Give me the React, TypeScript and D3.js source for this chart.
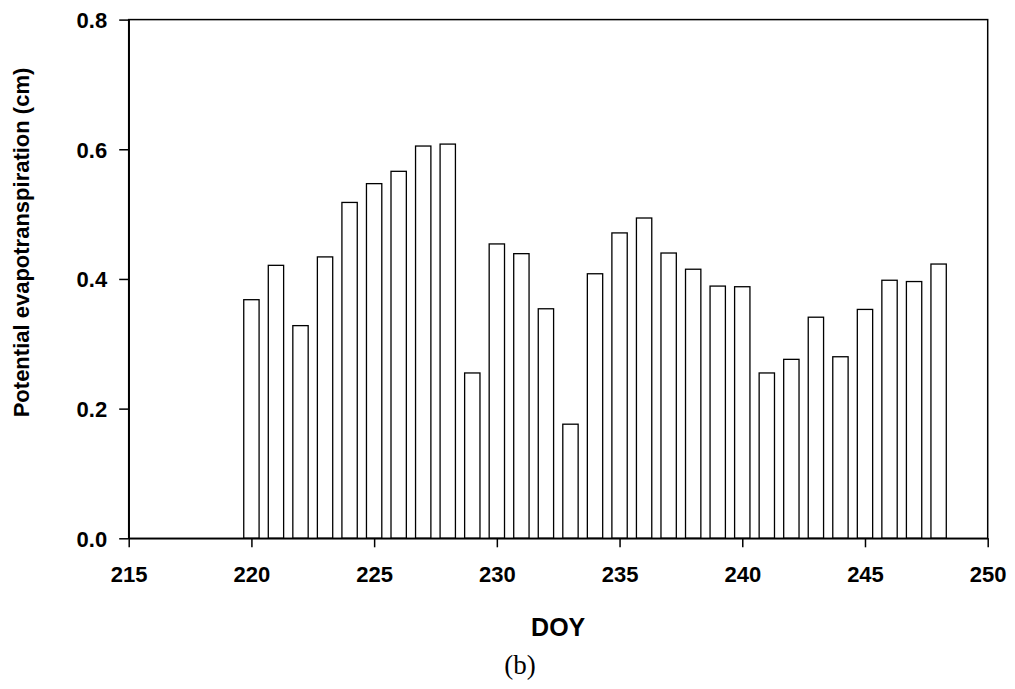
import React, { useEffect, useRef } from "react";
import * as d3 from "d3";

const days = [220, 221, 222, 223, 224, 225, 226, 227, 228, 229, 230, 231, 232, 233, 234, 235, 236, 237, 238, 239, 240, 241, 242, 243, 244, 245, 246, 247, 248];
const pet = [0.368, 0.421, 0.328, 0.434, 0.518, 0.547, 0.566, 0.605, 0.608, 0.255, 0.454, 0.439, 0.354, 0.176, 0.408, 0.471, 0.494, 0.440, 0.415, 0.389, 0.388, 0.255, 0.276, 0.341, 0.280, 0.353, 0.398, 0.396, 0.423];
const xTicks = [215, 220, 225, 230, 235, 240, 245, 250];
const yTicks = [0, 0.2, 0.4, 0.6, 0.8];

const W = 1015, H = 689;
const L = 128.7, R = 987.7, T = 19.6, B = 538.3;
const FONT = "Arial, 'Liberation Sans', sans-serif";

export default function App() {
  const ref = useRef<SVGSVGElement>(null);
  useEffect(() => {
    const svg = d3.select(ref.current);
    svg.selectAll("*").remove();
    const x = d3.scaleLinear().domain([215, 250]).range([L, R]);
    const y = d3.scaleLinear().domain([0, 0.8]).range([B, T]);
    const bw = (x(1) - x(0)) * 0.625;

    svg.append("rect").attr("width", W).attr("height", H).attr("fill", "#fff");

    svg.append("g").selectAll("rect").data(days).join("rect")
      .attr("x", (d) => x(d) - bw / 2)
      .attr("y", (_, i) => y(pet[i]))
      .attr("width", bw)
      .attr("height", (_, i) => y(0) - y(pet[i]))
      .attr("fill", "#fff")
      .attr("stroke", "#000")
      .attr("stroke-width", 1.3);

    // frame
    svg.append("rect").attr("x", L).attr("y", T).attr("width", R - L).attr("height", B - T)
      .attr("fill", "none").attr("stroke", "#000").attr("stroke-width", 1.5);

    const xa = svg.append("g").attr("transform", `translate(0,${B})`)
      .call(d3.axisBottom(x).tickValues(xTicks).tickSize(9).tickSizeOuter(0).tickPadding(0).tickFormat(d3.format("d")));
    xa.select(".domain").attr("stroke-width", 1.5);
    xa.selectAll("line").attr("stroke-width", 1.5);
    xa.selectAll("text").attr("font-family", FONT).attr("font-size", 22).attr("font-weight", "bold")
      .attr("fill", "#000").attr("y", 43.4).attr("dy", 0);

    const ya = svg.append("g").attr("transform", `translate(${L},0)`)
      .call(d3.axisLeft(y).tickValues(yTicks).tickSize(9.5).tickSizeOuter(0).tickPadding(12).tickFormat(d3.format(".1f")));
    ya.select(".domain").attr("stroke-width", 1.5);
    ya.selectAll("line").attr("stroke-width", 1.5);
    ya.selectAll("text").attr("font-family", FONT).attr("font-size", 22).attr("font-weight", "bold")
      .attr("fill", "#000").attr("dy", "0.36em");

    svg.append("text").attr("transform", `translate(29,242.5) rotate(-90)`)
      .attr("text-anchor", "middle").attr("font-family", FONT).attr("font-size", 22).attr("font-weight", "bold")
      .text("Potential evapotranspiration (cm)");

    svg.append("text").attr("x", (L + R) / 2).attr("y", 636)
      .attr("text-anchor", "middle").attr("font-family", FONT).attr("font-size", 25).attr("font-weight", "bold")
      .text("DOY");

    svg.append("text").attr("x", 520).attr("y", 674)
      .attr("text-anchor", "middle").attr("font-family", "'Times New Roman', 'Liberation Serif', serif").attr("font-size", 27)
      .text("(b)");
  }, []);
  return (
    <svg ref={ref} width={W} height={H} style={{ position: "absolute", left: 0, top: 0, display: "block" }} />
  );
}
